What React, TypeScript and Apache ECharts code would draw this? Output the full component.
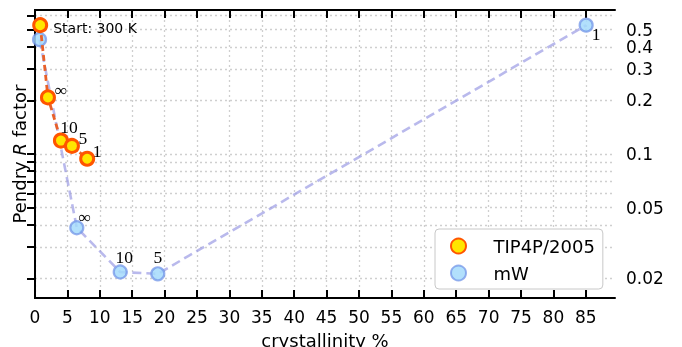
import React, { useEffect, useRef } from 'react';
import * as echarts from 'echarts';

// ---- data ----
const tipX = [0.8, 2.0, 4.0, 5.7, 8.05];
const tipY = [0.53, 0.208, 0.119, 0.111, 0.094];
const tipLabels = ['Start: 300 K', '∞', '10', '5', '1'];

const mwX = [0.7, 6.45, 13.15, 18.95, 85.05];
const mwY = [0.44, 0.0385, 0.0217, 0.0212, 0.53];
const mwLabels = ['', '∞', '10', '5', '1'];

const xTickValues = [0, 5, 10, 15, 20, 25, 30, 35, 40, 45, 50, 55, 60, 65, 70, 75, 80, 85];
const yTickValues = [0.02, 0.03, 0.04, 0.05, 0.06, 0.07, 0.08, 0.09, 0.1, 0.2, 0.3, 0.4, 0.5, 0.6];
const yLabelValues = [0.02, 0.05, 0.1, 0.2, 0.3, 0.4, 0.5];

// ---- label placement (styles) ----
const tipOffsets: [number, number][] = [[0, 3], [13, -7], [8, -14], [11, -8], [10, -8]];
const mwOffsets: [number, number][] = [[0, 0], [8, -11], [4, -15], [0, -17], [10, 9]];

const X_MIN = 0;
const X_MAX = 89.5;
const Y_MIN = 0.0155;
const Y_MAX = 0.645;

const lg = (v: number) => Math.log10(v);

export default function App() {
  const ref = useRef<HTMLDivElement>(null);

  useEffect(() => {
    if (!ref.current) return;
    const chart = echarts.init(ref.current, null, { renderer: 'svg' });

    const serifLabel = {
      fontFamily: 'Liberation Serif',
      fontSize: 17.5,
      color: '#000',
    };

    const tipData = tipX.map((x, i) => {
      const isStart = i === 0;
      return {
        value: [x, lg(tipY[i])],
        label: isStart
          ? {
              show: true,
              position: 'right',
              distance: 5,
              formatter: tipLabels[i],
              fontFamily: 'DejaVu Sans',
              fontSize: 14,
              color: '#000',
              offset: tipOffsets[i],
            }
          : {
              show: true,
              position: 'inside',
              align: 'center',
              verticalAlign: 'middle',
              formatter: tipLabels[i],
              offset: tipOffsets[i],
              ...serifLabel,
            },
      };
    });

    const mwData = mwX.map((x, i) => ({
      value: [x, lg(mwY[i])],
      label: mwLabels[i]
        ? {
            show: true,
            position: 'inside',
            align: 'center',
            verticalAlign: 'middle',
            formatter: mwLabels[i],
            offset: mwOffsets[i],
            ...serifLabel,
          }
        : { show: false },
    }));

    const axisLineStyle = { color: '#000', width: 2 };
    const gridLine = { show: true, lineStyle: { color: '#cfcfcf', width: 1.3, type: [2, 3] as any } };

    chart.setOption({
      animation: false,
      textStyle: { fontFamily: 'DejaVu Sans' },
      grid: { left: 35, right: 67, top: 10, bottom: 49, containLabel: false, outerBoundsMode: 'none' },
      legend: {
        data: ['TIP4P/2005', 'mW'],
        orient: 'vertical',
        left: 435,
        top: 229,
        backgroundColor: '#fff',
        borderColor: '#c8c8c8',
        borderWidth: 1,
        borderRadius: 4,
        padding: [8, 8, 7, 15],
        itemWidth: 40,
        itemHeight: 15,
        itemGap: 9,
        icon: 'circle',
        textStyle: { fontSize: 18, fontFamily: 'DejaVu Sans', color: '#000', padding: [0, 0, 0, 10] },
      },
      xAxis: [
        {
          type: 'value',
          position: 'bottom',
          min: X_MIN,
          max: X_MAX,
          name: 'crystallinity %',
          nameLocation: 'middle',
          nameGap: 33,
          nameMoveOverlap: false,
          nameTextStyle: { fontSize: 18, color: '#000', fontFamily: 'DejaVu Sans', verticalAlign: 'top' },
          axisLine: { show: true, lineStyle: axisLineStyle },
          axisTick: { show: true, inside: true, length: 8, lineStyle: { color: '#000', width: 2 }, customValues: xTickValues },
          axisLabel: { show: true, customValues: xTickValues, fontSize: 17, color: '#000', margin: 10 },
          splitLine: gridLine,
        },
        {
          type: 'value',
          position: 'top',
          min: X_MIN,
          max: X_MAX,
          axisLine: { show: true, lineStyle: axisLineStyle },
          axisTick: { show: true, inside: true, length: 8, lineStyle: { color: '#000', width: 2 }, customValues: xTickValues },
          axisLabel: { show: false },
          splitLine: { show: false },
        },
      ],
      yAxis: [
        {
          type: 'value',
          position: 'right',
          min: lg(Y_MIN),
          max: lg(Y_MAX),
          axisLine: { show: true, lineStyle: axisLineStyle },
          axisTick: {
            show: true,
            inside: true,
            length: 8,
            lineStyle: { color: '#000', width: 2 },
            customValues: yTickValues.map(lg),
          },
          axisLabel: {
            show: true,
            customValues: yLabelValues.map(lg),
            formatter: (v: number) => String(parseFloat(Math.pow(10, v).toPrecision(2))),
            fontSize: 17,
            lineHeight: 12,
            color: '#000',
            margin: 11,
            showMinLabel: true,
            showMaxLabel: true,
            hideOverlap: false,
          },
          splitLine: gridLine,
        },
        {
          type: 'value',
          position: 'left',
          min: lg(Y_MIN),
          max: lg(Y_MAX),
          name: 'Pendry {i|R} factor',
          nameLocation: 'middle',
          nameGap: 7,
          nameMoveOverlap: false,
          nameTextStyle: {
            fontSize: 18,
            color: '#000',
            fontFamily: 'DejaVu Sans',
            rich: { i: { fontStyle: 'italic', fontSize: 18, fontFamily: 'DejaVu Sans', color: '#000' } },
          },
          axisLine: { show: true, lineStyle: axisLineStyle },
          axisTick: { show: false },
          axisLabel: { show: false },
          splitLine: { show: false },
        },
      ],
      series: [
        {
          name: 'mW',
          type: 'line',
          xAxisIndex: 0,
          yAxisIndex: 0,
          data: mwData,
          symbol: 'circle',
          symbolSize: 13,
          z: 2,
          itemStyle: {
            color: 'rgba(165,218,252,0.85)',
            borderColor: 'rgba(115,150,232,0.75)',
            borderWidth: 2.2,
          },
          lineStyle: { color: 'rgba(155,155,228,0.7)', width: 2.6, type: [9, 5] },
          emphasis: { disabled: true },
        },
        {
          name: 'TIP4P/2005',
          type: 'line',
          xAxisIndex: 0,
          yAxisIndex: 0,
          data: tipData,
          symbol: 'circle',
          symbolSize: 13,
          z: 3,
          itemStyle: { color: '#ffe600', borderColor: '#ff5500', borderWidth: 3 },
          lineStyle: { color: '#e8602a', width: 2.8, type: [6, 4] },
          emphasis: { disabled: true },
        },
      ],
    });

    return () => chart.dispose();
  }, []);

  return <div ref={ref} style={{ position: 'fixed', left: 0, top: 0, width: 682, height: 347 }} />;
}
